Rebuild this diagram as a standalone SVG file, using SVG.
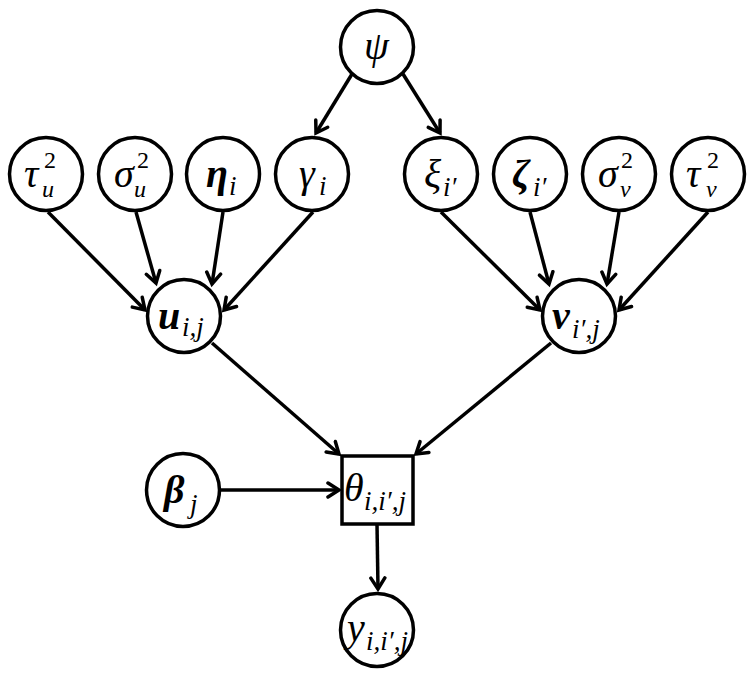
<svg xmlns="http://www.w3.org/2000/svg" width="756" height="682" viewBox="0 0 756 682">
<style>
.n{fill:#fff;stroke:#000;stroke-width:3.5}
.e{stroke:#000;stroke-width:3.5;fill:none;marker-end:url(#a)}
text{font-family:"Liberation Serif","DejaVu Serif",serif;font-style:italic;fill:#000}
.m{font-size:40px}
.s{font-size:27px}
.t{font-size:24px}
.b{font-weight:bold}
.up{font-style:normal}
</style>
<defs>
<marker id="a" markerUnits="userSpaceOnUse" markerWidth="20" markerHeight="20" refX="13" refY="8" orient="auto" viewBox="0 0 20 16">
<path d="M2,1 L13,8 L2,15" fill="none" stroke="#000" stroke-width="3.5" stroke-linecap="round" stroke-linejoin="miter"/>
</marker>
</defs>
<g id="connectors">
<line class="e" x1="352" y1="74" x2="316" y2="133"/>
<line class="e" x1="403" y1="74" x2="440" y2="133"/>
<line class="e" x1="48" y1="212" x2="145" y2="310"/>
<line class="e" x1="136" y1="212" x2="156" y2="283"/>
<line class="e" x1="223" y1="212" x2="212" y2="284"/>
<line class="e" x1="313" y1="212" x2="224" y2="310"/>
<line class="e" x1="441" y1="212" x2="540" y2="310"/>
<line class="e" x1="530" y1="212" x2="549" y2="284"/>
<line class="e" x1="619" y1="212" x2="607" y2="284"/>
<line class="e" x1="708" y1="212" x2="619" y2="310"/>
<line class="e" x1="212" y1="343" x2="339" y2="454"/>
<line class="e" x1="551" y1="343" x2="416" y2="454"/>
<line class="e" x1="220" y1="490" x2="339" y2="490"/>
<line class="e" x1="377" y1="524" x2="378" y2="589"/>
</g>
<g id="psi"><circle class="n" cx="377" cy="47" r="36.5"/><text class="m" x="364" y="59">ψ</text></g>
<g id="tau_u"><circle class="n" cx="46" cy="174" r="36.5"/><text class="m" x="24" y="187">τ</text><text class="t up" x="44" y="168">2</text><text class="t" x="42" y="197">u</text></g>
<g id="sigma_u"><circle class="n" cx="135" cy="174" r="36.5"/><text class="m" x="114" y="187">σ</text><text class="t up" x="137" y="168">2</text><text class="t" x="134" y="197">u</text></g>
<g id="eta"><circle class="n" cx="223" cy="174" r="36.5"/><text class="m b" x="206" y="187">η</text><text class="s" x="229" y="195">i</text></g>
<g id="gamma"><circle class="n" cx="312" cy="174" r="36.5"/><text class="m" x="299" y="187">γ</text><text class="s" x="319" y="195">i</text></g>
<g id="xi"><circle class="n" cx="441" cy="174" r="36.5"/><text class="m" x="424" y="187">ξ</text><text class="s" x="443" y="196">i′</text></g>
<g id="zeta"><circle class="n" cx="530" cy="174" r="36.5"/><text class="m b" x="512" y="187">ζ</text><text class="s" x="533" y="196">i′</text></g>
<g id="sigma_v"><circle class="n" cx="619" cy="174" r="36.5"/><text class="m" x="598" y="187">σ</text><text class="t up" x="621" y="168">2</text><text class="t" x="620" y="197">v</text></g>
<g id="tau_v"><circle class="n" cx="708" cy="174" r="36.5"/><text class="m" x="686" y="187">τ</text><text class="t up" x="707" y="168">2</text><text class="t" x="706" y="197">v</text></g>
<g id="u"><circle class="n" cx="184" cy="316" r="36.5"/><text class="m b" x="158" y="329">u</text><text class="s" x="182" y="336">i,j</text></g>
<g id="v"><circle class="n" cx="579" cy="316" r="36.5"/><text class="m b" x="552" y="329">v</text><text class="s" x="572" y="338">i′,j</text></g>
<g id="beta"><circle class="n" cx="183" cy="490" r="36.5"/><text class="m b" x="164" y="503">β</text><text class="s" x="190" y="513">j</text></g>
<g id="theta"><rect class="n" x="342" y="456" width="71" height="68"/><text class="m" x="344" y="501">θ</text><text class="s" x="364" y="510">i,i′,j</text></g>
<g id="y"><circle class="n" cx="377" cy="630" r="36.5"/><text class="m" x="347" y="641">y</text><text class="s" x="366" y="650">i,i′,j</text></g>
</svg>
